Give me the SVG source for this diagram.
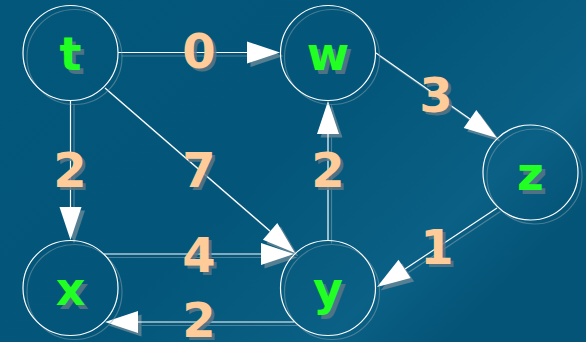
<svg xmlns="http://www.w3.org/2000/svg" width="586" height="342" viewBox="0 0 586 342">
  <defs>
    <linearGradient id="bg" x1="0" y1="0" x2="1" y2="0.6">
      <stop offset="0" stop-color="#03577a"/>
      <stop offset="0.55" stop-color="#03567a"/>
      <stop offset="0.7" stop-color="#065b7e"/>
      <stop offset="0.85" stop-color="#0a6085"/>
      <stop offset="1" stop-color="#045477"/>
    </linearGradient>
    <style>
      .edge { stroke:#ffffff; stroke-width:1.2; fill:none; }
      .edge-sh { stroke:#8aa2ae; stroke-width:1.2; fill:none; opacity:0.55; }
      .head { fill:#ffffff; }
      .head-sh { fill:#6a8897; opacity:0.8; }
      .ring { stroke:#ffffff; stroke-width:1.2; fill:none; }
      .ring-sh { stroke:#8aa2ae; stroke-width:1.2; fill:none; opacity:0.5; }
      .nlabel { font-family:"DejaVu Sans", sans-serif; font-weight:bold; font-size:46px; fill:#22ff22; text-anchor:middle; }
      .elabel { font-family:"DejaVu Sans", sans-serif; font-weight:bold; font-size:48px; fill:#ffcc99; text-anchor:middle; }
      .tsh { fill:#5a7786; opacity:0.85; }
    </style>
  </defs>
  <rect x="0" y="0" width="586" height="342" fill="url(#bg)"/>

  <g id="connectors">
    <!-- shadows -->
    <g transform="translate(3.5,3.5)">
      <path class="edge-sh" d="M118,52.5 L247,52.5"/>
      <path class="edge-sh" d="M376,53 L470,119"/>
      <path class="edge-sh" d="M105,88 L270,231"/>
      <path class="edge-sh" d="M70.5,101 L70.5,207"/>
      <path class="edge-sh" d="M328,240 L328,134"/>
      <path class="edge-sh" d="M104,254 L261,254"/>
      <path class="edge-sh" d="M294,322 L138,322"/>
      <path class="edge-sh" d="M497,208 L405,269"/>
      <polygon class="head-sh" points="280,52.5 247,41.5 247,63.5"/>
      <polygon class="head-sh" points="497,138 476.3,110 463.7,128"/>
      <polygon class="head-sh" points="295,253 277.3,223.1 262.9,239.7"/>
      <polygon class="head-sh" points="70.5,240 59.5,207 81.5,207"/>
      <polygon class="head-sh" points="328,101 317,134 339,134"/>
      <polygon class="head-sh" points="294,254 261,243 261,265"/>
      <polygon class="head-sh" points="105,322 138,311 138,333"/>
      <polygon class="head-sh" points="377,287 410.6,278.1 398.5,259.7"/>
    </g>
    <path class="edge" d="M118,52.5 L247,52.5"/>
    <path class="edge" d="M376,53 L470,119"/>
    <path class="edge" d="M105,88 L270,231"/>
    <path class="edge" d="M70.5,101 L70.5,207"/>
    <path class="edge" d="M328,240 L328,134"/>
    <path class="edge" d="M104,254 L261,254"/>
    <path class="edge" d="M294,322 L138,322"/>
    <path class="edge" d="M497,208 L405,269"/>
    <polygon class="head" points="280,52.5 247,41.5 247,63.5"/>
    <polygon class="head" points="497,138 476.3,110 463.7,128"/>
    <polygon class="head" points="295,253 277.3,223.1 262.9,239.7"/>
    <polygon class="head" points="70.5,240 59.5,207 81.5,207"/>
    <polygon class="head" points="328,101 317,134 339,134"/>
    <polygon class="head" points="294,254 261,243 261,265"/>
    <polygon class="head" points="105,322 138,311 138,333"/>
    <polygon class="head" points="377,287 410.6,278.1 398.5,259.7"/>

    <!-- edge labels -->
    <text class="elabel tsh" x="202" y="71">0</text>
    <text class="elabel" x="199" y="68">0</text>
    <text class="elabel tsh" x="439" y="115">3</text>
    <text class="elabel" x="436" y="112">3</text>
    <text class="elabel tsh" x="202" y="190">7</text>
    <text class="elabel" x="199" y="187">7</text>
    <text class="elabel tsh" x="73" y="190">2</text>
    <text class="elabel" x="70" y="187">2</text>
    <text class="elabel tsh" x="331" y="190">2</text>
    <text class="elabel" x="328" y="187">2</text>
    <text class="elabel tsh" x="202" y="275">4</text>
    <text class="elabel" x="199" y="272">4</text>
    <text class="elabel tsh" x="202" y="340">2</text>
    <text class="elabel" x="199" y="337">2</text>
    <text class="elabel tsh" x="440" y="267">1</text>
    <text class="elabel" x="437" y="264">1</text>
  </g>

  <g id="node-t">
    <circle class="ring-sh" cx="74.5" cy="57" r="47.5"/>
    <circle class="ring" cx="70.5" cy="53" r="47.5"/>
    <text class="nlabel tsh" x="74" y="74">t</text>
    <text class="nlabel" x="70.5" y="70">t</text>
  </g>
  <g id="node-w">
    <circle class="ring-sh" cx="332" cy="57" r="47.5"/>
    <circle class="ring" cx="328" cy="53" r="47.5"/>
    <text class="nlabel tsh" x="331.5" y="74">w</text>
    <text class="nlabel" x="328" y="70">w</text>
  </g>
  <g id="node-z">
    <circle class="ring-sh" cx="534.5" cy="176.5" r="47.5"/>
    <circle class="ring" cx="530.5" cy="172.5" r="47.5"/>
    <text class="nlabel tsh" x="534" y="193.5">z</text>
    <text class="nlabel" x="530.5" y="189.5">z</text>
  </g>
  <g id="node-x">
    <circle class="ring-sh" cx="74.5" cy="292" r="47.5"/>
    <circle class="ring" cx="70.5" cy="288" r="47.5"/>
    <text class="nlabel tsh" x="74" y="309">x</text>
    <text class="nlabel" x="70.5" y="305">x</text>
  </g>
  <g id="node-y">
    <circle class="ring-sh" cx="332" cy="292" r="47.5"/>
    <circle class="ring" cx="328" cy="288" r="47.5"/>
    <text class="nlabel tsh" x="331.5" y="309">y</text>
    <text class="nlabel" x="328" y="305">y</text>
  </g>
</svg>
